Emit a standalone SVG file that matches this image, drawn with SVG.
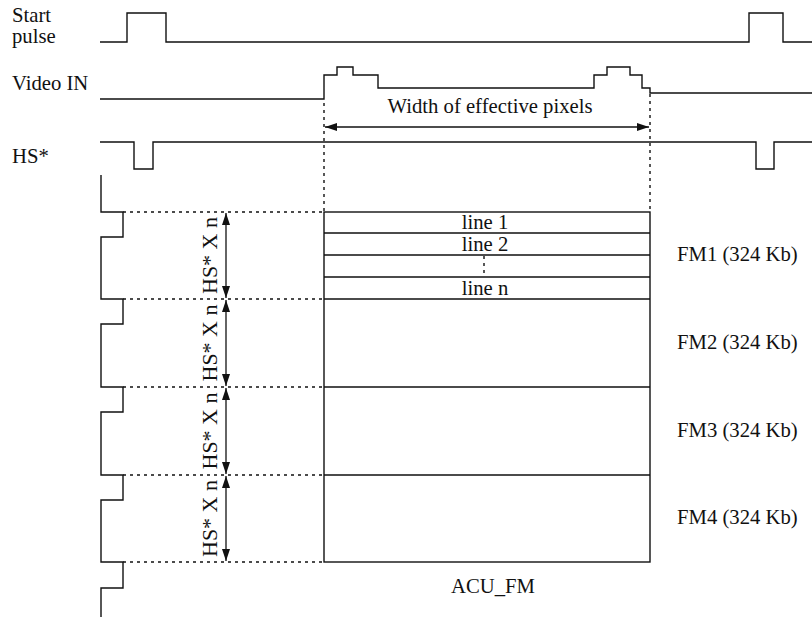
<svg xmlns="http://www.w3.org/2000/svg" width="812" height="617" viewBox="0 0 812 617">
<style>
.w{fill:none;stroke:#111;stroke-width:1.4}
.d{fill:none;stroke:#111;stroke-width:1.3;stroke-dasharray:3 4}
.v{fill:none;stroke:#111;stroke-width:1.4;stroke-dasharray:3 4}
.t{font-family:"Liberation Serif","Times New Roman",serif;font-size:20.7px;fill:#111}
.h{font-size:22px}
.m{text-anchor:middle}
.a{fill:none;stroke:#111;stroke-width:1.3;marker-start:url(#ah);marker-end:url(#ah)}
</style>
<defs>
<marker id="ah" viewBox="0 0 12 8" refX="12" refY="4" markerWidth="12" markerHeight="8" markerUnits="userSpaceOnUse" orient="auto-start-reverse">
<path d="M0,0 L12,4 L0,8 Z" fill="#111"/>
</marker>
</defs>
<rect width="812" height="617" fill="#fff"/>

<g id="labels">
<text class="t" x="12" y="22">Start</text>
<text class="t" x="12" y="43">pulse</text>
<text class="t" x="12" y="90">Video IN</text>
<text class="t" x="12" y="163">HS*</text>
</g>

<g id="start-pulse">
<path class="w" d="M100,42 H127 V13 H166 V42 H749 V13 H783 V42 H812"/>
</g>

<g id="video-in">
<path class="w" d="M100,99 H324 V75 H337 V67 H353 V75 H378 V88 H594 V75 H607 V67 H630 V75 H642 V88 H650 V93 H812"/>
</g>

<g id="hs">
<path class="w" d="M100,142 H134 V169 H153 V142 H756 V169 H774 V142 H812"/>
</g>

<g id="hs-count">
<path class="w" d="M101,175 V212 H123 V237 H101 V299 H123 V324 H101 V387 H123 V412 H101 V475 H123 V500 H101 V562 H123 V588 H101 V617"/>
</g>

<g id="acu-fm">
<rect class="w" x="324" y="212" width="326" height="350"/>
<path class="w" d="M324,233 H650 M324,255 H650 M324,277 H650 M324,299 H650 M324,387 H650 M324,475 H650"/>
<path class="v" d="M484,256 V277"/>
<text class="t m" x="485" y="229">line 1</text>
<text class="t m" x="485" y="251">line 2</text>
<text class="t m" x="485" y="295">line n</text>
<text class="t m" x="493" y="593">ACU_FM</text>
</g>

<g id="fm-labels">
<text class="t" x="677" y="261">FM1 (324 Kb)</text>
<text class="t" x="677" y="349">FM2 (324 Kb)</text>
<text class="t" x="677" y="437">FM3 (324 Kb)</text>
<text class="t" x="677" y="524">FM4 (324 Kb)</text>
</g>

<g id="connectors">
<path class="v" d="M324,103 V212 M650,94 V212"/>
<path class="d" d="M123,212 H324 M123,299 H324 M123,387 H324 M123,475 H324 M123,562 H324"/>
<path class="a" d="M325,127 H649"/>
<path class="a" d="M226,213 V298"/>
<path class="a" d="M226,300 V386"/>
<path class="a" d="M226,388 V474"/>
<path class="a" d="M226,476 V561"/>
<text class="t m" x="490" y="113">Width of effective pixels</text>
<text class="t h m" transform="translate(217,255.5) rotate(-90)">HS* X n</text>
<text class="t h m" transform="translate(217,343) rotate(-90)">HS* X n</text>
<text class="t h m" transform="translate(217,431) rotate(-90)">HS* X n</text>
<text class="t h m" transform="translate(217,518.5) rotate(-90)">HS* X n</text>
</g>
</svg>
